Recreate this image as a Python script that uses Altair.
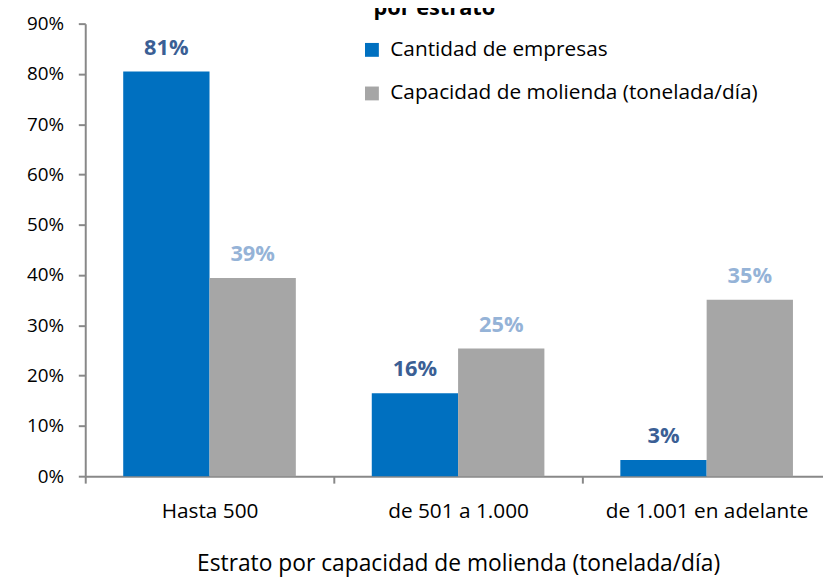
import altair as alt
import pandas as pd

categories = ["Hasta 500", "de 501 a 1.000", "de 1.001 en adelante"]
series_names = ["Cantidad de empresas", "Capacidad de molienda (tonelada/día)"]
empresas = [0.805, 0.165, 0.032]
capacidad = [0.394, 0.254, 0.351]
empresas_lbl = ["81%", "16%", "3%"]
capacidad_lbl = ["39%", "25%", "35%"]

rows = []
for i, c in enumerate(categories):
    rows.append({"cat": c, "serie": series_names[0], "v": empresas[i], "lbl": empresas_lbl[i]})
    rows.append({"cat": c, "serie": series_names[1], "v": capacidad[i], "lbl": capacidad_lbl[i]})
df = pd.DataFrame(rows)

FONT = "Open Sans"
AX = "#888888"

x = alt.X("cat:N", sort=categories, title="Estrato por capacidad de molienda (tonelada/día)",
          scale=alt.Scale(range=[0, 753], paddingInner=0, paddingOuter=0),
          axis=alt.Axis(labelAngle=0, tickBand="extent", tickSize=7, tickWidth=2, tickColor=AX,
                        domainColor=AX, domainWidth=2, labelPadding=18, titlePadding=31,
                        labelFont=FONT, labelFontSize=21, labelColor="#000000", labelLimit=400,
                        titleFont=FONT, titleFontSize=23, titleFontWeight="normal", titleColor="#000000"))
xo = alt.XOffset("serie:N", sort=series_names, scale=alt.Scale(paddingInner=0, paddingOuter=0.44))
y = alt.Y("v:Q", title=None,
          scale=alt.Scale(domain=[0, 0.9], nice=False),
          axis=alt.Axis(format=".0%", values=[i / 10 for i in range(10)], grid=False,
                        tickSize=7, tickWidth=2, tickColor=AX, domainColor=AX, domainWidth=2,
                        labelPadding=15, labelFont=FONT, labelFontSize=19, labelColor="#000000"))

bars = alt.Chart(df).mark_bar().encode(
    x=x, xOffset=xo, y=y,
    color=alt.Color("serie:N", sort=series_names,
                    scale=alt.Scale(domain=series_names, range=["#0070C0", "#A6A6A6"]),
                    legend=alt.Legend(title=None, orient="none", legendX=279, legendY=16,
                                      symbolType="square", symbolSize=196, symbolStrokeWidth=0,
                                      labelFont=FONT, labelFontSize=21, labelColor="#000000",
                                      rowPadding=22, labelOffset=8, labelLimit=600)),
)

text = alt.Chart(df).mark_text(font=FONT, fontSize=22, fontWeight="bold", baseline="alphabetic", dy=-17).encode(
    x=x, xOffset=xo, y=y, text="lbl:N",
    color=alt.condition(alt.datum.serie == series_names[0], alt.value("#3B5F95"), alt.value("#95B3D7")),
)

chart = alt.layer(bars, text).properties(
    width=745, height=457,
    autosize=alt.AutoSizeParams(type="none"),
    padding={"left": 78, "top": 13, "right": 0, "bottom": 99},
    title=alt.TitleParams("por estrato", font=FONT, fontSize=22, fontWeight="bold", color="#000000",
                          anchor="middle", frame="group", dx=-20, offset=-5),
).configure_view(stroke=None)

chart.save("out.html", embed_options={"renderer": "svg", "actions": False})
